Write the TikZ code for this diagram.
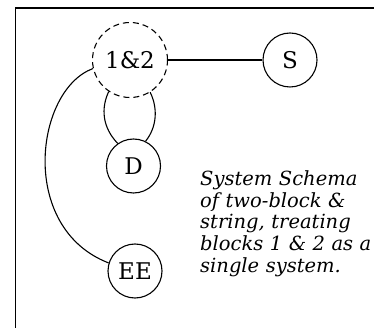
\documentclass[tikz,border=0pt]{standalone}
\usepackage{fontspec}
\setmainfont{DejaVu Serif}
\begin{document}
\begin{tikzpicture}[x=1pt,y=-1pt,
  ent/.style={circle,draw,line width=1.1pt,minimum size=54pt,inner sep=0pt,font=\fontsize{23}{23}\selectfont},
  sys/.style={ent,dashed,dash pattern=on 6pt off 4pt,minimum size=75pt},
  link/.style={line width=1.1pt}]
\useasboundingbox (0,0) rectangle (374,328);
\begin{scope}
\clip (0,0) rectangle (374,328);
\draw[line width=1.8pt] (15.5,340) -- (15.5,8) -- (390,8);
\end{scope}
\node[sys] (A) at (130,60) {1\&2};
\node[ent] (S) at (290,60) {S};
\node[ent] (D) at (133.5,166) {D};
\node[ent] (E) at (135,271) {EE};
\draw[link] (A.east) -- (S.west);
\draw[link] (A.-124) .. controls (101,108) and (102,127) .. (D.125);
\draw[link] (A.-58) .. controls (158,108) and (157,127) .. (D.64);
\draw[link] (A.193) .. controls (35,90) and (18,228) .. (E.163);
\node[anchor=north west,text width=172pt,align=left,inner sep=0pt,font=\itshape\fontsize{19.5}{21.7}\selectfont] (T) at (200,170.5)
{System Schema\\of two-block \&\\string, treating\\blocks 1 \& 2 as a\\single system.};
\end{tikzpicture}
\end{document}
